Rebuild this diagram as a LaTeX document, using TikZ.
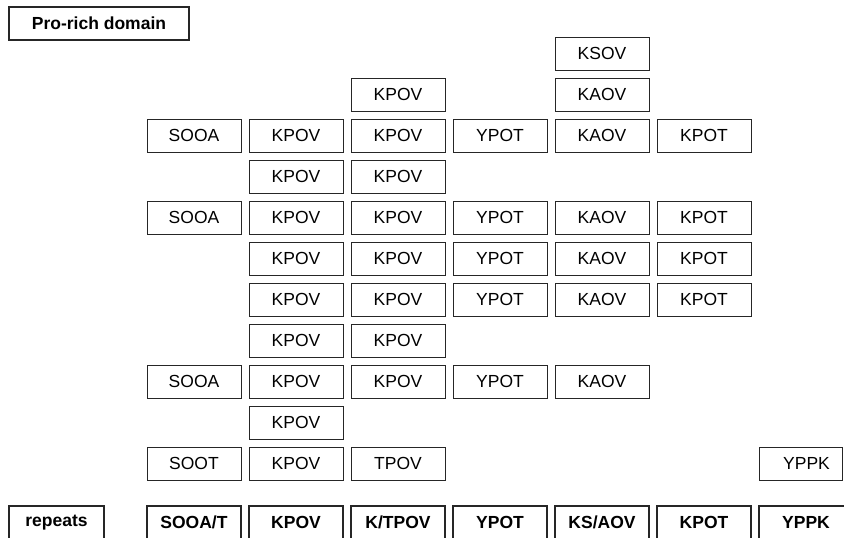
\documentclass[tikz,border=0pt]{standalone}
\usepackage{fontspec}
\setmainfont{Liberation Sans}
\begin{document}
\begin{tikzpicture}[x=1pt,y=-1pt,
  cell/.style={draw=black!85,line width=0.9pt,minimum width=94pt,minimum height=33pt,inner sep=0pt,font=\fontsize{17.5}{20}\selectfont},
  boldcell/.style={cell,line width=1.8pt,font=\fontsize{17.5}{20}\selectfont\bfseries}]
\useasboundingbox (0,0) rectangle (844,538);
% header
\node[boldcell,minimum width=180pt] (hdr) at (99,23.5) {Pro-rich domain};
% grid cells: row/col/text
\foreach \r/\c/\t in {
  1/5/KSOV,
  2/3/KPOV, 2/5/KAOV,
  3/1/SOOA, 3/2/KPOV, 3/3/KPOV, 3/4/YPOT, 3/5/KAOV, 3/6/KPOT,
  4/2/KPOV, 4/3/KPOV,
  5/1/SOOA, 5/2/KPOV, 5/3/KPOV, 5/4/YPOT, 5/5/KAOV, 5/6/KPOT,
  6/2/KPOV, 6/3/KPOV, 6/4/YPOT, 6/5/KAOV, 6/6/KPOT,
  7/2/KPOV, 7/3/KPOV, 7/4/YPOT, 7/5/KAOV, 7/6/KPOT,
  8/2/KPOV, 8/3/KPOV,
  9/1/SOOA, 9/2/KPOV, 9/3/KPOV, 9/4/YPOT, 9/5/KAOV,
  10/2/KPOV,
  11/1/SOOT, 11/2/KPOV, 11/3/TPOV}
  \node[cell] (r\r c\c) at ({194+102*(\c-1)},{53.5+41*(\r-1)}) {\t};
\node[cell,minimum width=83pt] (r11c7) at (800.5,463.5) {\hspace*{12pt}YPPK};
% repeats row
\node[boldcell,minimum width=95pt] (rep) at (56.5,522.5) {repeats};
\foreach \c/\t in {1/{SOOA/T}, 2/KPOV, 3/{K/TPOV}, 4/YPOT, 5/{KS/AOV}, 6/KPOT, 7/YPPK}
  \node[boldcell] (b\c) at ({194+102*(\c-1)},522.5) {\t};
\end{tikzpicture}
\end{document}
